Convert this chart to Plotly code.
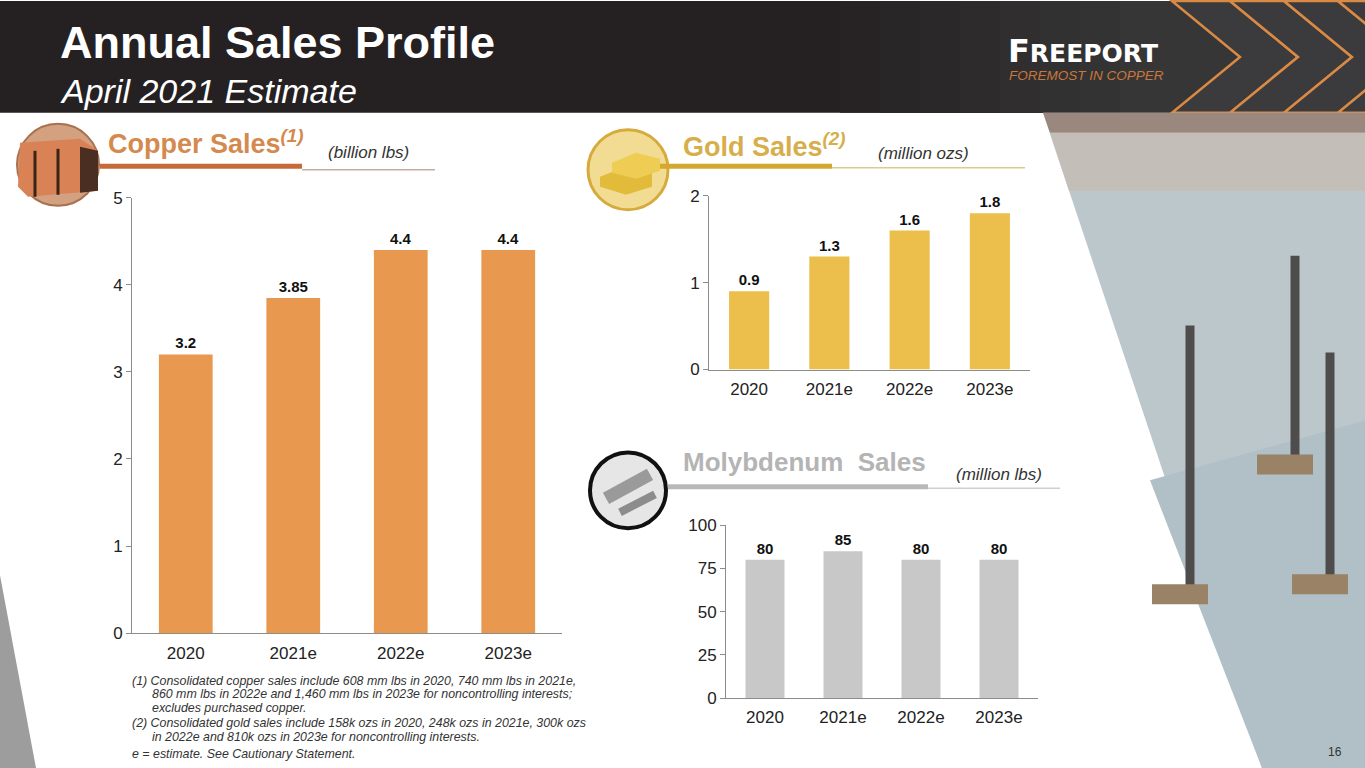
import plotly.graph_objects as go

W, H = 1365, 768

# chart data
years = ['2020', '2021e', '2022e', '2023e']
copper = [3.2, 3.85, 4.4, 4.4]      # billion lbs
gold = [0.9, 1.3, 1.6, 1.8]         # million ozs
moly = [80, 85, 80, 80]             # million lbs

footnotes = [
    '(1) Consolidated copper sales include 608 mm lbs in 2020, 740 mm lbs in 2021e,',
    '860 mm lbs in 2022e and 1,460 mm lbs in 2023e for noncontrolling interests;',
    'excludes purchased copper.',
    '(2) Consolidated gold sales include 158k ozs in 2020, 248k ozs in 2021e, 300k ozs',
    'in 2022e and 810k ozs in 2023e for noncontrolling interests.',
    'e = estimate. See Cautionary Statement.',
]

FONT = 'Liberation Sans, Arial, sans-serif'

# the page shot puts the paper 8px down and squeezes it to ~750px tall
TOP, TALL = 8, 750


def X(px):
    return px / W


def Y(py):
    return 1 - (py - TOP) / TALL


def poly(pts, fill, line=None, lw=0, layer='below'):
    path = 'M ' + ' L '.join(f'{X(a):.5f},{Y(b):.5f}' for a, b in pts) + ' Z'
    return dict(type='path', xref='paper', yref='paper', path=path, fillcolor=fill,
                line=dict(color=line or fill, width=lw), layer=layer)


def rect(x0, y0, x1, y1, fill, layer='below'):
    return dict(type='rect', xref='paper', yref='paper', x0=X(x0), x1=X(x1),
                y0=Y(y1), y1=Y(y0), fillcolor=fill, line=dict(width=0), layer=layer)


def seg(x0, y0, x1, y1, color, w, layer='above'):
    return dict(type='line', xref='paper', yref='paper', x0=X(x0), x1=X(x1),
                y0=Y(y0), y1=Y(y1), line=dict(color=color, width=w), layer=layer)


def circ(cx, cy, r, fill, line, lw):
    return dict(type='circle', xref='paper', yref='paper', x0=X(cx - r), x1=X(cx + r),
                y0=Y(cy + r), y1=Y(cy - r), fillcolor=fill, line=dict(color=line, width=lw),
                layer='above')


def txt(x, y, s, size, color='#333333', xanchor='left', bold=False, italic=False, fam=FONT):
    if italic:
        s = f'<i>{s}</i>'
    if bold:
        s = f'<b>{s}</b>'
    return dict(x=X(x), y=Y(y), xref='paper', yref='paper', text=s, showarrow=False,
                xanchor=xanchor, yanchor='middle', align='left',
                font=dict(family=fam, size=size, color=color))


fig = go.Figure()

bar_specs = [
    (copper, '#E8994F', 'x', 'y'),
    (gold, '#ECBE4B', 'x2', 'y2'),
    (moly, '#C8C8C8', 'x3', 'y3'),
]
for vals, col, xa, ya in bar_specs:
    fig.add_trace(go.Bar(
        x=years, y=vals, marker=dict(color=col, line=dict(width=0)),
        text=[f'<b>{v}</b>' for v in vals], textposition='outside', cliponaxis=False,
        textfont=dict(family=FONT, size=15, color='#111111'),
        xaxis=xa, yaxis=ya, hoverinfo='skip', showlegend=False,
    ))

axis_common = dict(showline=True, linecolor='#8c8c8c', linewidth=1, showgrid=False,
                   zeroline=False, tickfont=dict(family=FONT, size=17, color='#222222'))
xcat = dict(ticks='', ticklabelstandoff=4, **axis_common)
yval = dict(ticks='outside', ticklen=5, tickcolor='#8c8c8c', **axis_common)

fig.update_layout(
    width=W, height=H, margin=dict(l=0, r=0, t=0, b=0),
    paper_bgcolor='white', plot_bgcolor='rgba(0,0,0,0)',
    bargap=0.5, showlegend=False,
    xaxis=dict(domain=[X(132), X(562)], **xcat),
    yaxis=dict(domain=[Y(633), Y(197)], range=[0, 5], dtick=1, **yval),
    xaxis2=dict(domain=[X(709), X(1030)], anchor='y2', **xcat),
    yaxis2=dict(domain=[Y(369), Y(195)], range=[0, 2], dtick=1, anchor='x2', **yval),
    xaxis3=dict(domain=[X(726), X(1038)], anchor='y3', **xcat),
    yaxis3=dict(domain=[Y(698), Y(525)], range=[0, 100], dtick=25, anchor='x3', **yval),
)

shapes = []
# header band with a soft gradient toward the right
shapes.append(rect(0, 0, W, 112, '#252122'))
grad = ['#272324', '#292627', '#2b2829', '#2d2b2c', '#302e2f', '#323132', '#343334', '#363637']
for i, c in enumerate(grad):
    shapes.append(rect(840 + i * 40, 0, W, 112, c))
# chevrons
tops = [1172, 1230, 1284, 1338, 1392]
for i in range(len(tops) - 1):
    t, w = tops[i], tops[i + 1] - tops[i]
    shapes.append(poly([(t, 0), (t + 68, 56), (t, 112), (t + w, 112), (t + w + 68, 56), (t + w, 0)],
                       '#3b3a3c', line='#d98a45', lw=2.5))

# photo area on the right
shapes.append(poly([(1043, 112), (W, 112), (W, 768), (1262, 768)], '#bcc7cc'))
shapes.append(poly([(1043, 112), (W, 112), (W, 132), (1050, 132)], '#9a887e'))
shapes.append(poly([(1050, 132), (W, 132), (W, 190), (1069, 190)], '#c4beb9'))
shapes.append(poly([(1150, 480), (W, 420), (W, 768), (1262, 768)], '#b1bfc6'))
# drill rigs
for x0, ytop, ybot in [(1190, 325, 590), (1295, 255, 460), (1330, 352, 580)]:
    shapes.append(seg(x0, ytop, x0, ybot, '#4f4d4c', 9, layer='below'))
    shapes.append(rect(x0 - 38, ybot - 6, x0 + 18, ybot + 14, '#9a8266'))
# grey corner at bottom-left
shapes.append(poly([(0, 575), (36, 768), (0, 768)], '#9d9d9d'))

# copper header
shapes.append(circ(58, 164, 41, '#d3a080', '#a8704f', 2))
shapes.append(poly([(20, 142), (80, 138), (98, 150), (98, 190), (28, 196), (18, 186)], '#d98255',
                   layer='above'))
shapes.append(poly([(80, 146), (98, 150), (98, 190), (80, 192)], '#4a2e22', layer='above'))
shapes.append(seg(35, 150, 35, 196, '#3a2418', 3))
shapes.append(seg(58, 148, 58, 194, '#3a2418', 3))
shapes.append(rect(100, 163, 302, 168, '#C8693A', layer='above'))
shapes.append(seg(302, 169, 435, 169, '#c4aea0', 1.5))

# gold header
shapes.append(circ(628, 169, 40, '#f2dc94', '#d6ab3c', 3))
shapes.append(poly([(600, 176), (625, 166), (652, 172), (652, 186), (626, 194), (600, 186)], '#e2bb3a',
                   layer='above'))
shapes.append(poly([(612, 162), (636, 152), (660, 158), (660, 170), (636, 178), (612, 172)], '#efcd55',
                   layer='above'))
shapes.append(rect(660, 163, 832, 168, '#D4A82E', layer='above'))
shapes.append(seg(832, 167, 1025, 167, '#dccb8e', 1.5))

# molybdenum header
shapes.append(circ(628, 490, 38, '#e6e6e6', '#111111', 4))
shapes.append(seg(606, 498, 650, 474, '#9a9a9a', 13))
shapes.append(seg(620, 512, 655, 494, '#8c8c8c', 8))
shapes.append(rect(668, 484, 928, 489, '#B8B8B8', layer='above'))
shapes.append(seg(928, 488, 1060, 488, '#cfcfcf', 1.5))

anns = [
    txt(58, 42, 'Annual Sales Profile', 45, 'white', bold=True),
    txt(58, 90, 'April 2021 Estimate', 34, 'white', italic=True),
    txt(1006, 50, 'F<span style="font-size:25px">REEPORT</span>', 32, 'white', bold=True,
        fam='DejaVu Sans, sans-serif'),
    txt(1007, 75, 'FOREMOST IN COPPER', 13.5, '#c9773a', italic=True),
    txt(106, 141, 'Copper Sales<sup><i>(1)</i></sup>', 27, '#D48A4E', bold=True),
    txt(326, 152, '(billion lbs)', 17, '#333333', italic=True),
    txt(681, 144, 'Gold Sales<sup><i>(2)</i></sup>', 27, '#D6AF4C', bold=True),
    txt(876, 153, '(million ozs)', 17, '#333333', italic=True),
    txt(681, 462, 'Molybdenum  Sales', 26, '#B4B4B4', bold=True),
    txt(954, 474, '(million lbs)', 17, '#333333', italic=True),
    txt(1335, 752, '16', 12, '#333333', xanchor='center'),
]
fn_pos = [(130, 681), (150, 694), (150, 708), (130, 723), (150, 737), (130, 754)]
for (fx, fy), line in zip(fn_pos, footnotes):
    anns.append(txt(fx, fy, line, 12.4, '#333333', italic=True))

fig.update_layout(shapes=shapes, annotations=anns)

fig.write_html('out.html', config={'displayModeBar': False},
               post_script="document.body.style.margin='0';")
